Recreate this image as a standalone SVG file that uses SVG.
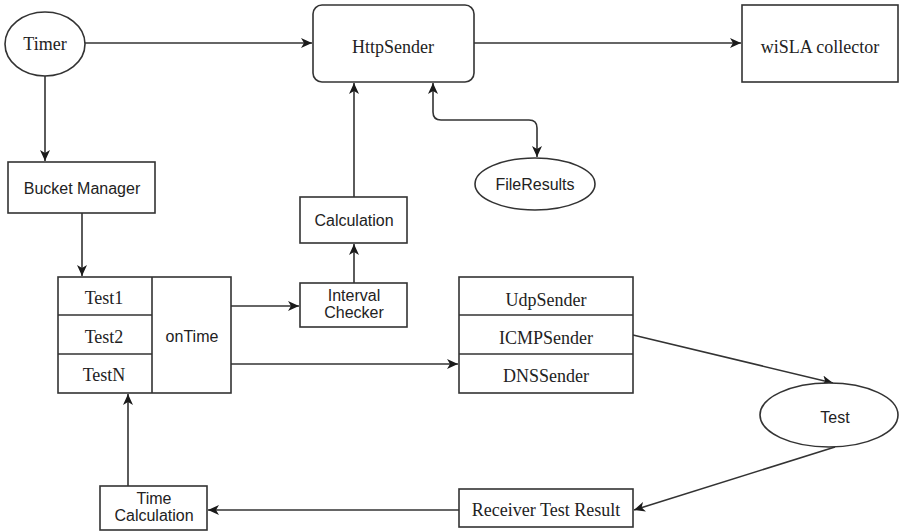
<svg xmlns="http://www.w3.org/2000/svg" width="899" height="531" viewBox="0 0 899 531">
<defs>
<marker id="arr" markerUnits="userSpaceOnUse" markerWidth="12" markerHeight="10" refX="11" refY="5" orient="auto-start-reverse">
<path d="M0,0 L11,5 L0,10 L3,5 Z" fill="#1a1a1a"/>
</marker>
<style>
.s{fill:#fff;stroke:#333;stroke-width:1.6}
.c{fill:none;stroke:#333;stroke-width:1.6}
.se{font-family:"Liberation Serif","Times New Roman",serif;font-size:18px;fill:#222;text-anchor:middle}
.sa{font-family:"Liberation Sans",Arial,sans-serif;font-size:16px;fill:#222;text-anchor:middle}
</style>
</defs>
<rect width="899" height="531" fill="#fff"/>
<g id="connectors">
<path class="c" d="M85,43 H312" marker-end="url(#arr)"/>
<path class="c" d="M474,43 H741" marker-end="url(#arr)"/>
<path class="c" d="M45,76 V161" marker-end="url(#arr)"/>
<path class="c" d="M82,213 V276" marker-end="url(#arr)"/>
<path class="c" d="M231,306 H299" marker-end="url(#arr)"/>
<path class="c" d="M354,283 V244" marker-end="url(#arr)"/>
<path class="c" d="M354,197 V83" marker-end="url(#arr)"/>
<path class="c" d="M433,83 V112 Q433,120 441,120 H529 Q537,120 537,128 V157" marker-start="url(#arr)" marker-end="url(#arr)"/>
<path class="c" d="M231,364 H458" marker-end="url(#arr)"/>
<path class="c" d="M633,335 L833,383" marker-end="url(#arr)"/>
<path class="c" d="M835,447 L634,510" marker-end="url(#arr)"/>
<path class="c" d="M459,510 H208" marker-end="url(#arr)"/>
<path class="c" d="M128,486 V394" marker-end="url(#arr)"/>
</g>
<g id="timer">
<ellipse class="s" cx="45" cy="44" rx="40" ry="32"/>
<text class="se" x="45" y="50">Timer</text>
</g>
<g id="httpsender">
<rect class="s" x="313" y="5" width="161" height="77" rx="9"/>
<text class="se" x="393" y="53">HttpSender</text>
</g>
<g id="wisla">
<rect class="s" x="742" y="5" width="156" height="77"/>
<text class="se" x="820" y="53">wiSLA collector</text>
</g>
<g id="bucket">
<rect class="s" x="8" y="162" width="147" height="51"/>
<text class="sa" x="82" y="194">Bucket Manager</text>
</g>
<g id="fileresults">
<ellipse class="s" cx="535" cy="184" rx="60" ry="26"/>
<text class="sa" x="535" y="190">FileResults</text>
</g>
<g id="calculation">
<rect class="s" x="300" y="197" width="107" height="46"/>
<text class="sa" x="354" y="226">Calculation</text>
</g>
<g id="interval">
<rect class="s" x="300" y="283" width="107" height="44"/>
<text class="sa" x="354" y="301">Interval</text>
<text class="sa" x="354" y="318">Checker</text>
</g>
<g id="tests">
<rect class="s" x="58" y="277" width="173" height="116"/>
<path class="c" d="M152,277 V393 M58,315 H152 M58,354 H152"/>
<text class="se" x="104" y="304">Test1</text>
<text class="se" x="104" y="343">Test2</text>
<text class="se" x="104" y="381">TestN</text>
<text class="sa" x="192" y="342">onTime</text>
</g>
<g id="senders">
<rect class="s" x="459" y="277" width="174" height="116"/>
<path class="c" d="M459,315 H633 M459,354 H633"/>
<text class="se" x="546" y="306">UdpSender</text>
<text class="se" x="546" y="344">ICMPSender</text>
<text class="se" x="546" y="382">DNSSender</text>
</g>
<g id="test">
<ellipse class="s" cx="829" cy="415" rx="69" ry="32"/>
<text class="sa" x="835" y="423">Test</text>
</g>
<g id="receiver">
<rect class="s" x="459" y="489" width="174" height="38"/>
<text class="se" x="546" y="516">Receiver Test Result</text>
</g>
<g id="timecalc">
<rect class="s" x="100" y="486" width="107" height="44"/>
<text class="sa" x="154" y="504">Time</text>
<text class="sa" x="154" y="521">Calculation</text>
</g>
</svg>
